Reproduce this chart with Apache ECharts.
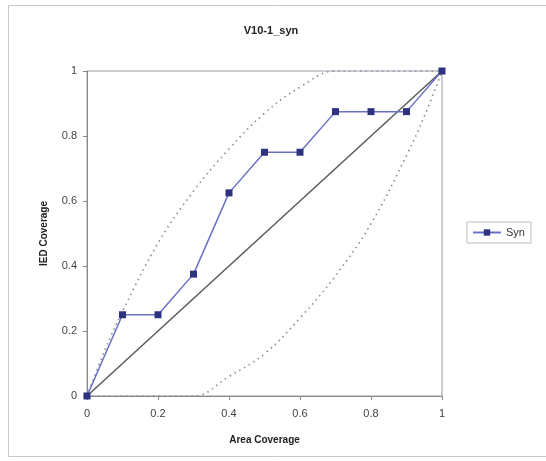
<!DOCTYPE html>
<html><head><meta charset="utf-8">
<script src="https://cdn.jsdelivr.net/npm/echarts@6/dist/echarts.min.js"></script>
<style>html,body{margin:0;padding:0;background:#fff}#c{width:546px;height:461px}</style>
</head><body><div id="c"></div>
<script>
var synX = [0, 0.1, 0.2, 0.3, 0.4, 0.5, 0.6, 0.7, 0.8, 0.9, 1];
var synY = [0, 0.25, 0.25, 0.375, 0.625, 0.75, 0.75, 0.875, 0.875, 0.875, 1];
var diagX = [0, 1];
var diagY = [0, 1];
var upperX = [0, 0.05, 0.1, 0.2, 0.3, 0.4, 0.5, 0.6, 0.7, 0.8, 0.9, 1];
var upperY = [0, 0.14, 0.26, 0.47, 0.63, 0.76, 0.87, 0.95, 1, 1, 1, 1];
var lowerX = [0, 0.1, 0.2, 0.3, 0.4, 0.5, 0.6, 0.7, 0.8, 0.9, 0.95, 1];
var lowerY = [0, 0, 0, 0, 0.06, 0.13, 0.24, 0.37, 0.53, 0.74, 0.86, 1];
var ticks = [0, 0.2, 0.4, 0.6, 0.8, 1];

function pairs(xs, ys){ return xs.map(function(x,i){return [x, ys[i]];}); }
function fmt(v){ for (var i=0;i<ticks.length;i++){ if (Math.abs(ticks[i]-v)<1e-9) return String(ticks[i]); } return ''; }

var chart = echarts.init(document.getElementById('c'));
chart.setOption({
  animation: false,
  backgroundColor: '#fff',
  graphic: [{ type: 'rect', shape: { x: 8.5, y: 5.5, width: 560, height: 451 },
    style: { fill: 'none', stroke: '#c8c8c8', lineWidth: 1 }, silent: true }],
  title: { text: 'V10-1_syn', left: 266, top: 20, textAlign: 'center',
    textStyle: { fontFamily: 'Liberation Sans', fontSize: 11, fontWeight: 'bold', color: '#222' } },
  grid: { left: 87, right: 104, top: 71, bottom: 65, show: true, borderColor: '#9a9aa8', borderWidth: 1 },
  xAxis: { type: 'value', min: 0, max: 1, interval: 0.2,
    name: 'Area Coverage', nameLocation: 'middle', nameGap: 39,
    nameTextStyle: { fontFamily: 'Liberation Sans', fontSize: 10, fontWeight: 'bold', color: '#222' },
    axisLine: { show: true, lineStyle: { color: '#888', width: 1 } },
    axisTick: { show: true, length: 4, lineStyle: { color: '#888' } },
    axisLabel: { formatter: fmt, margin: 12, fontFamily: 'Liberation Sans', fontSize: 11, color: '#444' },
    splitLine: { show: false } },
  yAxis: { type: 'value', min: 0, max: 1, interval: 0.2,
    name: 'IED Coverage', nameLocation: 'middle', nameGap: 38,
    nameTextStyle: { fontFamily: 'Liberation Sans', fontSize: 10, fontWeight: 'bold', color: '#222' },
    axisLine: { show: true, lineStyle: { color: '#888', width: 1 } },
    axisTick: { show: true, length: 4, lineStyle: { color: '#888' } },
    axisLabel: { formatter: fmt, margin: 10, fontFamily: 'Liberation Sans', fontSize: 11, color: '#444' },
    splitLine: { show: false } },
  legend: { data: [{ name: 'Syn' }], left: 467, top: 222, orient: 'vertical',
    borderColor: '#bbb', borderWidth: 1, padding: [5, 6, 5, 5], itemWidth: 28, itemHeight: 8, itemGap: 4,
    textStyle: { fontFamily: 'Liberation Sans', fontSize: 11, color: '#333' } },
  series: [
    { name: 'upper', type: 'line', data: pairs(upperX, upperY), smooth: 0.4, showSymbol: false,
      lineStyle: { color: '#8a8a99', width: 1.6, type: [1.5, 4] }, z: 2 },
    { name: 'lower', type: 'line', data: pairs(lowerX, lowerY), smooth: 0.4, showSymbol: false,
      lineStyle: { color: '#8a8a99', width: 1.6, type: [1.5, 4] }, z: 2 },
    { name: 'diag', type: 'line', data: pairs(diagX, diagY), showSymbol: false,
      lineStyle: { color: '#555a60', width: 1.5 }, z: 3 },
    { name: 'Syn', type: 'line', data: pairs(synX, synY), symbol: 'rect', symbolSize: 7,
      itemStyle: { color: '#2e3380' }, lineStyle: { color: '#6a70c4', width: 1.5 }, z: 4 }
  ]
});
</script>
</body></html>
